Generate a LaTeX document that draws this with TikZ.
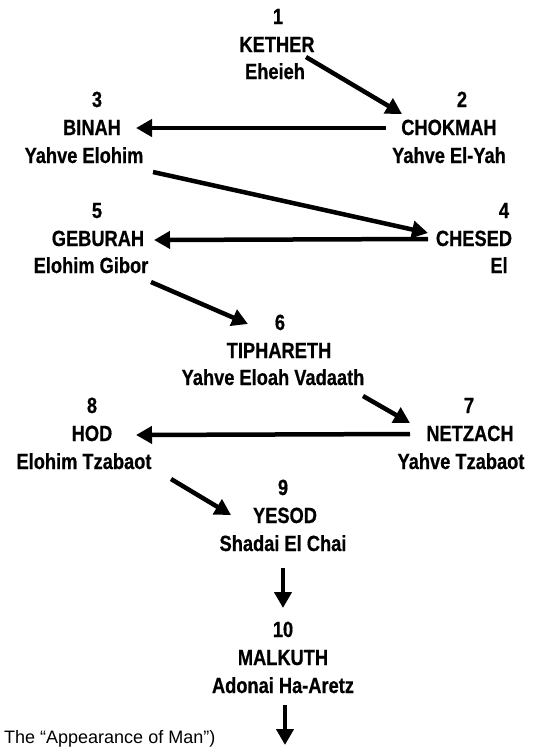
\documentclass[tikz,border=0pt]{standalone}
\usepackage{fontspec}
\setmainfont{Liberation Sans}[FakeStretch=0.83,BoldFeatures={FakeBold=0.6}]
\newfontfamily\plainfont{Liberation Sans}
\usetikzlibrary{arrows.meta,calc}
\begin{document}
\begin{tikzpicture}[x=1pt,y=-1pt,
  lbl/.style={anchor=base,inner sep=0pt,font=\bfseries\fontsize{22}{26}\selectfont},
  arr/.style={line width=4.5pt,-{Triangle[length=16pt,width=17pt]}}]
\useasboundingbox (0,0) rectangle (535,748);
% 1
\node[lbl] (n1) at (278,24) {1};
\node[lbl] (k1) at (277,52) {KETHER};
\node[lbl] (d1) at (275,79) {Eheieh};
% 2
\node[lbl] (n2) at (462,107) {2};
\node[lbl] (k2) at (449,135) {CHOKMAH};
\node[lbl] (d2) at (449,163) {Yahve El-Yah};
% 3
\node[lbl] (n3) at (97,107) {3};
\node[lbl] (k3) at (92,135) {BINAH};
\node[lbl] (d3) at (84,163) {Yahve Elohim};
% 4
\node[lbl] (n4) at (504,218) {4};
\node[lbl] (k4) at (474,246) {CHESED};
\node[lbl] (d4) at (499,273) {El};
% 5
\node[lbl] (n5) at (97,218) {5};
\node[lbl] (k5) at (98,246) {GEBURAH};
\node[lbl] (d5) at (91,273) {Elohim Gibor};
% 6
\node[lbl] (n6) at (280,330) {6};
\node[lbl] (k6) at (279,358) {TIPHARETH};
\node[lbl] (d6) at (273,385) {Yahve Eloah Vadaath};
% 7
\node[lbl] (n7) at (469,413) {7};
\node[lbl] (k7) at (470,441) {NETZACH};
\node[lbl] (d7) at (461,469) {Yahve Tzabaot};
% 8
\node[lbl] (n8) at (92,413) {8};
\node[lbl] (k8) at (92,441) {HOD};
\node[lbl] (d8) at (84,469) {Elohim Tzabaot};
% 9
\node[lbl] (n9) at (283,495) {9};
\node[lbl] (k9) at (285,523) {YESOD};
\node[lbl] (d9) at (283,551) {Shadai El Chai};
% 10
\node[lbl] (n10) at (283,637) {10};
\node[lbl] (k10) at (283,665) {MALKUTH};
\node[lbl] (d10) at (283,693) {Adonai Ha-Aretz};
% bottom text
\node[anchor=base west,inner sep=0pt,font=\plainfont\fontsize{18}{22}\selectfont] (app) at (4,743) {The “Appearance of Man”)};
\coordinate (out) at (285,745);
% arrows
\draw[arr] ($(k1.base)+(29,5)$) -- ($(k2.base)+(-47,-21)$);
\draw[arr] ($(k2.base)+(-63,-7)$) -- ($(k3.base)+(44,-7)$);
\draw[arr] ($(d3.base)+(69,9)$) -- ($(k4.base)+(-46,-13)$);
\draw[arr] ($(k4.base)+(-46,-7)$) -- ($(k5.base)+(56,-6)$);
\draw[arr] ($(d5.base)+(60,9)$) -- ($(n6.base)+(-32,-6)$);
\draw[arr] ($(d6.base)+(90,11)$) -- ($(k7.base)+(-60,-18)$);
\draw[arr] ($(k7.base)+(-60,-7)$) -- ($(k8.base)+(44,-6)$);
\draw[arr] ($(d8.base)+(87,10)$) -- ($(k9.base)+(-54,-8)$);
\draw[arr] ($(d9.base)+(0,17)$) -- ($(n10.base)+(0,-29)$);
\draw[arr] ($(d10.base)+(2,12)$) -- (out);
\end{tikzpicture}
\end{document}
